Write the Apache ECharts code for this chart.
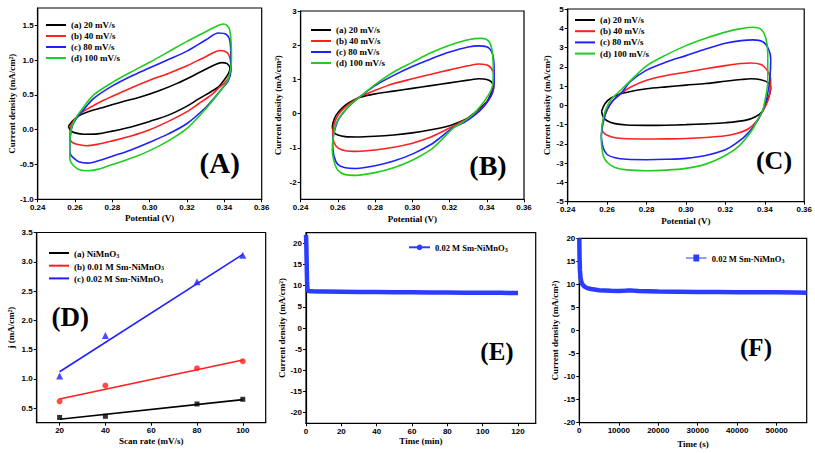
<!DOCTYPE html>
<html><head><meta charset="utf-8">
<script src="https://cdn.jsdelivr.net/npm/echarts@6/dist/echarts.min.js"></script>
<style>html,body{margin:0;padding:0;background:#fff}#c{width:815px;height:453px}</style>
</head><body><div id="c"></div>
<script>
// ---------- data ----------
const scanLabels = ['(a) 20 mV/s', '(b) 40 mV/s', '(c) 80 mV/s', '(d) 100 mV/s'];
const potentialTicks = [0.24, 0.26, 0.28, 0.30, 0.32, 0.34, 0.36];
const ticksA = [-1.0, -0.5, 0.0, 0.5, 1.0, 1.5];
const ticksB = [-2, -1, 0, 1, 2, 3];
const ticksC = [-5, -4, -3, -2, -1, 0, 1, 2, 3, 4, 5];
const ticksDx = [20, 40, 60, 80, 100];
const ticksDy = [0.5, 1.0, 1.5, 2.0, 2.5, 3.0, 3.5];
const ticksEx = [0, 20, 40, 60, 80, 100, 120];
const ticksEFy = [-20, -15, -10, -5, 0, 5, 10, 15, 20];
const ticksFx = [0, 10000, 20000, 30000, 40000, 50000];

// Panel A  (potential V, current mA/cm2)
const cvA_20 = [[0.2565,0.05],[0.2585,0.12],[0.262,0.2],[0.267,0.26],[0.275,0.32],[0.285,0.40],[0.295,0.47],[0.305,0.56],[0.315,0.67],[0.325,0.80],[0.333,0.91],[0.3385,0.965],[0.3415,0.95],[0.343,0.88],[0.342,0.80],[0.340,0.72],[0.337,0.62],[0.333,0.55],[0.326,0.44],[0.32,0.34],[0.31,0.21],[0.30,0.12],[0.29,0.04],[0.28,-0.02],[0.272,-0.06],[0.265,-0.065],[0.26,-0.045],[0.2575,-0.01],[0.2565,0.05]];
const cvA_40 = [[0.2572,-0.12],[0.2578,0.05],[0.26,0.16],[0.263,0.24],[0.268,0.32],[0.275,0.42],[0.28,0.48],[0.29,0.60],[0.30,0.71],[0.31,0.81],[0.32,0.92],[0.33,1.05],[0.3378,1.14],[0.3415,1.11],[0.343,1.03],[0.3435,0.88],[0.3425,0.76],[0.340,0.67],[0.337,0.6],[0.333,0.50],[0.326,0.37],[0.32,0.26],[0.31,0.12],[0.30,0.0],[0.29,-0.09],[0.28,-0.16],[0.272,-0.21],[0.266,-0.23],[0.261,-0.21],[0.258,-0.17],[0.2572,-0.12]];
const cvA_80 = [[0.2572,-0.28],[0.2575,-0.1],[0.2585,0.05],[0.261,0.17],[0.264,0.27],[0.27,0.45],[0.28,0.63],[0.29,0.77],[0.30,0.89],[0.31,1.01],[0.32,1.13],[0.33,1.29],[0.3368,1.39],[0.341,1.37],[0.343,1.27],[0.3435,1.0],[0.3435,0.85],[0.342,0.70],[0.339,0.60],[0.335,0.47],[0.33,0.32],[0.32,0.09],[0.31,-0.06],[0.30,-0.18],[0.29,-0.29],[0.28,-0.38],[0.272,-0.45],[0.267,-0.48],[0.262,-0.46],[0.259,-0.40],[0.2575,-0.35],[0.2572,-0.28]];
const cvA_100 = [[0.2572,-0.40],[0.2572,-0.2],[0.258,0.02],[0.26,0.15],[0.263,0.27],[0.27,0.50],[0.28,0.68],[0.29,0.83],[0.30,0.97],[0.31,1.12],[0.32,1.27],[0.33,1.41],[0.3398,1.52],[0.3425,1.46],[0.3435,1.3],[0.3438,1.05],[0.3435,0.90],[0.342,0.72],[0.339,0.60],[0.335,0.46],[0.33,0.30],[0.32,0.02],[0.31,-0.16],[0.30,-0.30],[0.29,-0.41],[0.28,-0.50],[0.272,-0.57],[0.267,-0.59],[0.262,-0.57],[0.259,-0.51],[0.2575,-0.45],[0.2572,-0.40]];

// Panel B
const cvB_20 = [[0.257,-0.4],[0.2575,-0.25],[0.259,-0.05],[0.262,0.15],[0.266,0.32],[0.272,0.48],[0.28,0.58],[0.29,0.66],[0.30,0.74],[0.31,0.82],[0.32,0.9],[0.33,0.98],[0.336,1.02],[0.34,1.0],[0.3425,0.93],[0.3435,0.8],[0.342,0.55],[0.34,0.35],[0.335,0.1],[0.33,-0.12],[0.325,-0.25],[0.32,-0.35],[0.31,-0.47],[0.30,-0.56],[0.29,-0.62],[0.28,-0.66],[0.27,-0.68],[0.264,-0.67],[0.26,-0.62],[0.258,-0.55],[0.257,-0.4]];
const cvB_40 = [[0.2572,-0.6],[0.2578,-0.35],[0.26,-0.05],[0.264,0.2],[0.268,0.36],[0.272,0.5],[0.28,0.68],[0.29,0.88],[0.30,1.02],[0.31,1.15],[0.32,1.28],[0.33,1.4],[0.336,1.45],[0.341,1.4],[0.3435,1.2],[0.344,0.9],[0.343,0.6],[0.341,0.4],[0.337,0.15],[0.332,-0.08],[0.326,-0.25],[0.32,-0.42],[0.31,-0.68],[0.30,-0.86],[0.29,-0.98],[0.28,-1.06],[0.27,-1.1],[0.264,-1.08],[0.26,-1.0],[0.258,-0.85],[0.2572,-0.6]];
const cvB_80 = [[0.2572,-0.9],[0.2578,-0.6],[0.26,-0.2],[0.264,0.1],[0.268,0.32],[0.272,0.5],[0.28,0.82],[0.29,1.12],[0.30,1.38],[0.31,1.6],[0.32,1.8],[0.33,1.95],[0.336,1.98],[0.341,1.92],[0.3435,1.65],[0.344,1.1],[0.3435,0.7],[0.342,0.5],[0.339,0.25],[0.334,-0.02],[0.328,-0.25],[0.322,-0.4],[0.315,-0.7],[0.31,-0.9],[0.30,-1.18],[0.29,-1.38],[0.28,-1.52],[0.27,-1.6],[0.264,-1.58],[0.26,-1.48],[0.258,-1.25],[0.2572,-0.9]];
const cvB_100 = [[0.257,-1.1],[0.2575,-0.7],[0.259,-0.3],[0.262,-0.02],[0.267,0.28],[0.272,0.5],[0.28,0.85],[0.29,1.22],[0.30,1.5],[0.31,1.78],[0.32,2.0],[0.33,2.16],[0.337,2.2],[0.341,2.12],[0.343,1.8],[0.3435,1.2],[0.343,0.8],[0.341,0.55],[0.337,0.25],[0.332,-0.05],[0.327,-0.25],[0.322,-0.42],[0.315,-0.8],[0.31,-1.05],[0.30,-1.36],[0.29,-1.58],[0.28,-1.72],[0.27,-1.8],[0.264,-1.78],[0.26,-1.65],[0.258,-1.4],[0.257,-1.1]];

// Panel C
const cvC_20 = [[0.2572,-0.3],[0.259,0.1],[0.262,0.38],[0.267,0.6],[0.272,0.72],[0.28,0.86],[0.29,0.96],[0.30,1.05],[0.31,1.13],[0.32,1.25],[0.328,1.34],[0.333,1.38],[0.338,1.33],[0.342,1.15],[0.343,0.9],[0.3425,0.6],[0.341,0.2],[0.3387,-0.33],[0.335,-0.6],[0.33,-0.78],[0.32,-0.9],[0.31,-0.96],[0.30,-1.0],[0.29,-1.03],[0.28,-1.04],[0.27,-1.02],[0.264,-0.95],[0.26,-0.8],[0.258,-0.6],[0.2572,-0.3]];
const cvC_40 = [[0.2572,-1.2],[0.258,-0.8],[0.26,-0.25],[0.263,0.25],[0.267,0.62],[0.272,0.95],[0.28,1.3],[0.29,1.55],[0.30,1.72],[0.31,1.9],[0.32,2.06],[0.328,2.17],[0.333,2.2],[0.338,2.12],[0.341,1.85],[0.343,1.3],[0.3425,0.6],[0.341,0.1],[0.3387,-0.33],[0.336,-0.8],[0.332,-1.2],[0.326,-1.45],[0.32,-1.58],[0.31,-1.67],[0.30,-1.72],[0.29,-1.74],[0.28,-1.75],[0.27,-1.73],[0.264,-1.68],[0.26,-1.55],[0.258,-1.4],[0.2572,-1.2]];
const cvC_80 = [[0.257,-1.6],[0.258,-0.9],[0.26,-0.2],[0.263,0.25],[0.267,0.62],[0.272,1.25],[0.28,1.83],[0.29,2.25],[0.30,2.58],[0.31,2.92],[0.32,3.22],[0.328,3.36],[0.334,3.4],[0.339,3.3],[0.342,2.9],[0.343,2.4],[0.3425,1.3],[0.341,0.4],[0.3387,-0.33],[0.335,-1.0],[0.33,-1.6],[0.325,-2.0],[0.32,-2.3],[0.31,-2.6],[0.30,-2.75],[0.29,-2.8],[0.28,-2.82],[0.27,-2.8],[0.264,-2.72],[0.26,-2.55],[0.258,-2.2],[0.257,-1.6]];
const cvC_100 = [[0.257,-1.8],[0.2575,-1.0],[0.259,-0.3],[0.262,0.3],[0.266,0.7],[0.272,1.3],[0.28,2.05],[0.29,2.62],[0.30,3.1],[0.31,3.48],[0.32,3.8],[0.328,3.98],[0.334,4.05],[0.338,3.95],[0.3405,3.5],[0.3415,2.7],[0.3415,1.2],[0.340,0.2],[0.3387,-0.33],[0.336,-0.8],[0.3336,-1.28],[0.327,-2.1],[0.32,-2.6],[0.31,-3.05],[0.30,-3.27],[0.29,-3.36],[0.28,-3.39],[0.27,-3.35],[0.264,-3.22],[0.26,-2.95],[0.258,-2.6],[0.257,-1.8]];

// Panel D  (scan rate mV/s, j mA/cm2)
const dNames = ['(a) NiMnO₃', '(b) 0.01 M Sm-NiMnO₃', '(c) 0.02 M Sm-NiMnO₃'];
const scanRates = [20, 40, 80, 100];
const jNiMnO3 = [0.34, 0.36, 0.57, 0.65];
const jSm001 = [0.615, 0.885, 1.18, 1.30];
const jSm002 = [1.05, 1.74, 2.66, 3.11];
const fitNiMnO3 = [[20, 0.31], [100, 0.645]];
const fitSm001 = [[20, 0.655], [100, 1.32]];
const fitSm002 = [[20, 1.12], [100, 3.125]];

// Panel E (time min, current)
const eName = '0.02 M Sm-NiMnO₃';
const timeMin = [0, 0.2, 0.4, 0.6, 0.8, 1, 2, 4, 7, 10, 20, 30, 40, 50, 60, 70, 80, 90, 100, 110, 120];
const currentE = [22.0, 19.5, 15.0, 11.0, 9.2, 8.8, 8.7, 8.65, 8.6, 8.6, 8.55, 8.5, 8.5, 8.45, 8.45, 8.4, 8.4, 8.35, 8.35, 8.3, 8.25];

// Panel F (time s, current)
const timeSec = [0, 60, 150, 300, 500, 800, 1200, 2000, 3000, 5000, 8000, 10000, 12000, 13500, 15000, 20000, 25000, 30000, 35000, 40000, 45000, 50000, 55000, 57600];
const currentF = [20.0, 16.0, 13.2, 11.5, 10.6, 10.0, 9.6, 9.2, 9.0, 8.75, 8.6, 8.55, 8.65, 8.65, 8.55, 8.45, 8.4, 8.35, 8.35, 8.3, 8.3, 8.3, 8.25, 8.2];

const panelLabels = ['(A)', '(B)', '(C)', '(D)', '(E)', '(F)'];

// ---------- styling ----------
const cvColors = ['#000000', '#ff1f1f', '#1f1fff', '#1fcc1f'];
const serif = '"Liberation Serif","Times New Roman",serif';
const sans = '"Liberation Sans",Arial,sans-serif';
const nameFont = { fontFamily: serif, fontWeight: 'bold', fontSize: 9, color: '#000' };
const curTitle = 'Current density (mA/cm²)';

function axis(gi, min, max, ticks, dec, name, gap) {
  return {
    type: 'value', gridIndex: gi, min: min, max: max, name: name,
    nameLocation: 'middle', nameGap: gap, nameTextStyle: Object.assign({}, nameFont),
    axisLine: { show: true, onZero: false, lineStyle: { color: '#000', width: 1.2 } },
    axisTick: { show: true, inside: false, length: 3, customValues: ticks, lineStyle: { color: '#000', width: 1 } },
    axisLabel: { show: true, margin: 4, customValues: ticks, color: '#000', fontFamily: sans, fontWeight: 'bold', fontSize: 8,
      formatter: function (v) { return dec ? Number(v).toFixed(dec) : String(Math.round(v)); } },
    splitLine: { show: false }
  };
}
function grid(l, t, w, h) {
  return { left: l, top: t, width: w, height: h, show: true, borderColor: '#000', borderWidth: 1.2 };
}

const grids = [
  grid(37.7, 8, 224, 191.3),
  grid(300.6, 11, 223.4, 188.3),
  grid(567.7, 9, 238, 192.7),
  grid(36.7, 232.5, 229, 190.2),
  grid(306, 232.7, 229.7, 190.6),
  grid(579.3, 238.3, 227.4, 184.4)
];
const xAxes = [
  axis(0, 0.24, 0.36, potentialTicks, 2, 'Potential (V)', 14),
  axis(1, 0.24, 0.36, potentialTicks, 2, 'Potential (V)', 15.5),
  axis(2, 0.24, 0.36, potentialTicks, 2, 'Potential (V)', 15),
  axis(3, 10, 110, ticksDx, 0, 'Scan rate (mV/s)', 13.5),
  axis(4, 0, 130, ticksEx, 0, 'Time (min)', 13.5),
  axis(5, 0, 57600, ticksFx, 0, 'Time (s)', 17)
];
const yAxes = [
  axis(0, -1.0, 1.75, ticksA, 1, curTitle, 21.5),
  axis(1, -2.5, 3, ticksB, 0, curTitle, 18),
  axis(2, -5, 5, ticksC, 0, curTitle, 16.5),
  axis(3, 0.25, 3.5, ticksDy, 1, 'j (mA/cm²)', 21.5),
  axis(4, -22.5, 22.5, ticksEFy, 0, curTitle, 17),
  axis(5, -20, 20, ticksEFy, 0, curTitle, 19)
];

const series = [];
[[cvA_20, cvA_40, cvA_80, cvA_100], [cvB_20, cvB_40, cvB_80, cvB_100], [cvC_20, cvC_40, cvC_80, cvC_100]].forEach(function (set, p) {
  set.forEach(function (d, i) {
    series.push({ type: 'line', name: scanLabels[i], xAxisIndex: p, yAxisIndex: p, data: d, smooth: 0.3,
      showSymbol: false, symbol: 'none', lineStyle: { color: cvColors[i], width: 1.6 }, itemStyle: { color: cvColors[i] } });
  });
});
const dCols = ['#000000', '#ff1f1f', '#1f1fff'];
const dFits = [fitNiMnO3, fitSm001, fitSm002];
const dPts = [jNiMnO3, jSm001, jSm002];
const dSyms = ['rect', 'circle', 'triangle'];
const dSizes = [5, 6, 7];
dFits.forEach(function (f, i) {
  series.push({ type: 'line', name: dNames[i], xAxisIndex: 3, yAxisIndex: 3, data: f, showSymbol: false, symbol: 'none',
    lineStyle: { color: dCols[i], width: 1.6 }, itemStyle: { color: dCols[i] } });
  series.push({ type: 'scatter', name: 'pts' + i, xAxisIndex: 3, yAxisIndex: 3,
    data: scanRates.map(function (x, k) { return [x, dPts[i][k]]; }),
    symbol: dSyms[i], symbolSize: dSizes[i], itemStyle: { color: dCols[i] } });
});
const blueE = '#2a3cff';
series.push({ type: 'line', name: eName, xAxisIndex: 4, yAxisIndex: 4,
  data: timeMin.map(function (t, k) { return [t, currentE[k]]; }),
  symbol: 'circle', showSymbol: false, lineStyle: { color: blueE, width: 4.5 }, itemStyle: { color: blueE } });
series.push({ type: 'line', name: eName, xAxisIndex: 5, yAxisIndex: 5,
  data: timeSec.map(function (t, k) { return [t, currentF[k]]; }),
  symbol: 'rect', showSymbol: false, lineStyle: { color: blueE, width: 4.5 }, itemStyle: { color: blueE } });

const legText = { fontFamily: serif, fontWeight: 'bold', fontSize: 9, color: '#000', lineHeight: 11 };
const subRich = {
  t: { fontFamily: serif, fontWeight: 'bold', fontSize: 9, color: '#000', lineHeight: 11, verticalAlign: 'bottom' },
  s: { fontFamily: serif, fontWeight: 'bold', fontSize: 6, color: '#000', lineHeight: 6, verticalAlign: 'bottom' }
};
function subFmt(n) { return '{t|' + n.replace('₃', '') + '}{s|3}'; }
function lineLegend(l, t, names, gap) {
  return { orient: 'vertical', left: l, top: t, padding: 0, itemWidth: 20, itemHeight: 2, itemGap: gap, icon: 'rect',
    selectedMode: false, itemStyle: { borderWidth: 0 }, data: names, textStyle: Object.assign({}, legText) };
}
const legends = [
  lineLegend(46, 19.5, scanLabels, 0),
  lineLegend(311, 24.5, scanLabels, 0),
  lineLegend(575, 14.5, scanLabels, 0.2),
  Object.assign(lineLegend(49, 249.5, dNames, 3.7), { formatter: subFmt, textStyle: { rich: subRich } }),
  { orient: 'vertical', left: 408, top: 243.8, padding: 0, itemWidth: 21, itemHeight: 7, selectedMode: false,
    lineStyle: { width: 2 }, itemStyle: { borderWidth: 0 }, data: [eName], formatter: subFmt,
    textStyle: { fontSize: 8.5, rich: Object.assign({}, subRich, { t: Object.assign({}, subRich.t, { fontSize: 8.5 }) }) } },
  { orient: 'vertical', left: 686, top: 254.5, padding: 0, itemWidth: 21, itemHeight: 7, selectedMode: false,
    itemStyle: { borderWidth: 0 },
    data: [{ name: eName, icon: 'path://M0,3.4H7.2V0.6H12.8V3.4H20V4.6H12.8V7.4H7.2V4.6H0Z' }], formatter: subFmt,
    textStyle: { fontSize: 8.5, rich: Object.assign({}, subRich, { t: Object.assign({}, subRich.t, { fontSize: 8.5 }) }) } }
];

const labelPos = [[219.7, 163.3], [488, 165.5], [774, 160], [70.3, 316.7], [497, 351], [756, 347.7]];
const labelSize = [29, 28, 26, 27, 25, 25];
const graphics = panelLabels.map(function (t, i) {
  return { type: 'text', x: labelPos[i][0], y: labelPos[i][1], z: 100,
    style: { text: t, fill: '#000', fontFamily: serif, fontWeight: 'bold', fontSize: labelSize[i],
      align: 'center', verticalAlign: 'middle', textAlign: 'center', textVerticalAlign: 'middle' } };
});

const chart = echarts.init(document.getElementById('c'), null, { renderer: 'svg' });
chart.setOption({
  backgroundColor: '#ffffff',
  animation: false,
  grid: grids, xAxis: xAxes, yAxis: yAxes, legend: legends, series: series, graphic: graphics
});
</script>
</body></html>
